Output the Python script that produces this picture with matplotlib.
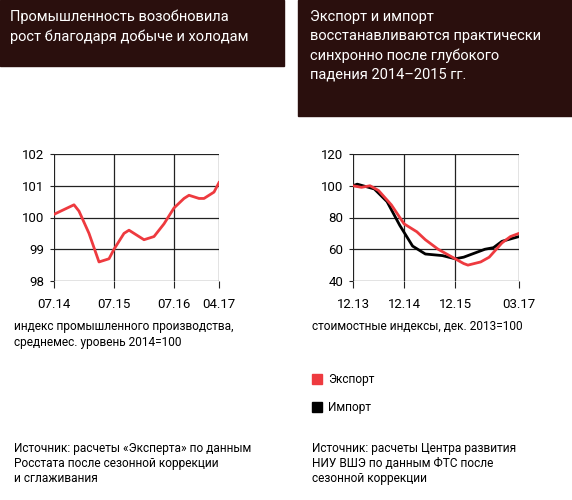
import matplotlib
matplotlib.use("Agg")
import matplotlib.pyplot as plt
from matplotlib.patches import Rectangle

FONT = ["Roboto", "DejaVu Sans"]
plt.rcParams['font.family'] = FONT

# Left chart: industrial production index
ind_months = [0, 4, 5, 7, 9, 11, 12, 14, 15, 17, 18, 20, 22, 24, 26, 27, 29, 30, 32, 33]
ind_values = [100.1, 100.4, 100.2, 99.5, 98.6, 98.7, 99.0, 99.5, 99.6, 99.4, 99.3, 99.4, 99.8, 100.3, 100.6, 100.7, 100.6, 100.6, 100.8, 101.1]
ind_ticks = [0, 12, 24, 33]
ind_ticklabels = ["07.14", "07.15", "07.16", "04.17"]

# Right chart: export / import
imp_months = [0, 1, 5, 8, 11, 14, 17, 21, 24, 26, 28, 31, 33, 35, 39]
imp_values = [100, 101, 98, 90, 75, 62, 57, 56, 54, 55, 57, 60, 61, 65, 68]
exp_months = [0, 2, 4, 6, 9, 12, 15, 17, 20, 22, 24, 26, 27, 30, 32, 33, 35, 37, 39]
exp_values = [100, 99, 100, 97, 88, 76, 71, 66, 60, 57, 54, 51, 50, 52, 55, 58, 64, 68, 70]
trd_ticks = [0, 12, 24, 39]
trd_ticklabels = ["12.13", "12.14", "12.15", "03.17"]

W, H = 572, 500
fig = plt.figure(figsize=(W/100, H/100), dpi=100)
RED = "#ee3a3f"
BOX = "#2a0f0d"

def box(x0, y0, x1, y1):
    fig.patches.append(Rectangle((x0/W, 1-y1/H), (x1-x0)/W, (y1-y0)/H,
                                 transform=fig.transFigure, color=BOX, zorder=0))
box(0, 0, 284, 66)
box(298, 0, 572, 116)
fig.text(10/W, 1-10/H, "Промышленность возобновила\nрост благодаря добыче и холодам",
         color="white", fontsize=10.5, va="top", linespacing=1.45)
fig.text(310/W, 1-10/H, "Экспорт и импорт\nвосстанавливаются практически\nсинхронно после глубокого\nпадения 2014–2015 гг.",
         color="white", fontsize=10.5, va="top", linespacing=1.45)

def setup(ax, ticks, labels, yticks):
    ax.set_xticks(ticks)
    ax.set_xticklabels(labels)
    ax.set_yticks(yticks)
    ax.grid(True, color="#222", lw=0.9)
    for s in ax.spines.values():
        s.set_visible(False)
    ax.tick_params(length=3, labelsize=9.5, color="#222", pad=4)
    ax.tick_params(axis='x', length=5, pad=7)

ax1 = fig.add_axes([54/W, 1-281/H, 165/W, 127/H])
ax1.plot(ind_months, ind_values, color=RED, lw=2)
ax1.set_xlim(0, 33); ax1.set_ylim(98, 102)
setup(ax1, ind_ticks, ind_ticklabels, [98, 99, 100, 101, 102])

ax2 = fig.add_axes([353/W, 1-281/H, 166/W, 127/H])
ax2.plot(imp_months, imp_values, color="black", lw=2, label="Импорт")
ax2.plot(exp_months, exp_values, color=RED, lw=2, label="Экспорт")
ax2.set_xlim(0, 39); ax2.set_ylim(40, 120)
setup(ax2, trd_ticks, trd_ticklabels, [40, 60, 80, 100, 120])

fs = 8.6
fig.text(14/W, 1-320/H, "индекс промышленного производства,\nсреднемес. уровень 2014=100",
         fontsize=fs, va="top", linespacing=1.3)
fig.text(312/W, 1-320/H, "стоимостные индексы, дек. 2013=100",
         fontsize=fs, va="top")
fig.patches.append(Rectangle((312/W, 1-384/H), 10/W, 10/H, transform=fig.transFigure, color=RED))
fig.text(328/W, 1-379/H, "Экспорт", fontsize=fs, va="center")
fig.patches.append(Rectangle((312/W, 1-412/H), 10/W, 10/H, transform=fig.transFigure, color="black"))
fig.text(328/W, 1-407/H, "Импорт", fontsize=fs, va="center")

fig.text(14/W, 1-442/H, "Источник: расчеты «Эксперта» по данным\nРосстата после сезонной коррекции\nи сглаживания",
         fontsize=fs, va="top", linespacing=1.2)
fig.text(312/W, 1-442/H, "Источник: расчеты Центра развития\nНИУ ВШЭ по данным ФТС после\nсезонной коррекции",
         fontsize=fs, va="top", linespacing=1.2)

fig.savefig("out.png", dpi=100, facecolor="white")
